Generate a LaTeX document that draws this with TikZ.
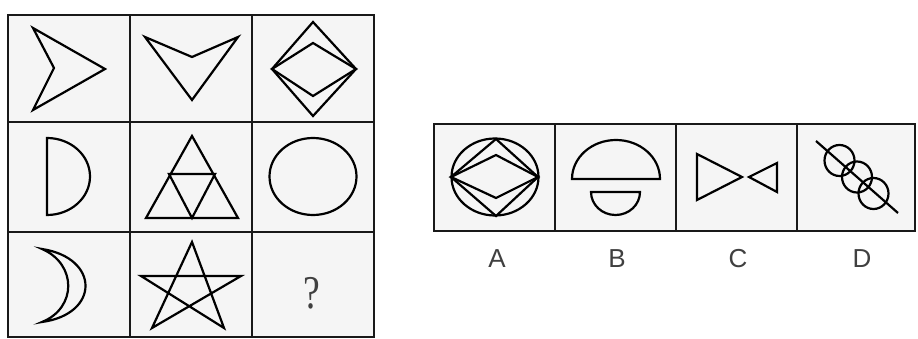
\documentclass[tikz,border=0pt]{standalone}
\usepackage{fontspec}
\setmainfont{Liberation Serif}
\newfontfamily\labelfont{Liberation Sans}
\begin{document}
\begin{tikzpicture}[x=1pt,y=-1pt,
  gridline/.style={line width=2.6pt,draw=black!90},
  shp/.style={line width=2.2pt,draw=black,line join=miter},
  optlabel/.style={anchor=base,text=black!75,font=\labelfont\fontsize{26}{26}\selectfont,inner sep=0pt}]
\path[use as bounding box,fill=white] (0,0) rectangle (918,339);
% matrix grid
\fill[black!4] (8,15) rectangle (374,337);
\draw[gridline] (8,15) rectangle (374,337);
\draw[gridline] (130,15) -- (130,337) (252,15) -- (252,337);
\draw[gridline] (8,122) -- (374,122) (8,232) -- (374,232);
% row 1
\draw[shp] (33,28) -- (105,69) -- (33,110) -- (54,68) -- cycle;
\draw[shp] (145,37) -- (192,57) -- (238,37) -- (192,100) -- cycle;
\draw[shp] (313,22) -- (356,69) -- (313,116) -- (272,69) -- cycle;
\draw[shp] (313,43) -- (356,69) -- (313,96) -- (272,69) -- cycle;
% row 2
\draw[shp] (47,138) arc[start angle=-90,end angle=90,x radius=43,y radius=38.5] -- cycle;
\draw[shp] (192,136) -- (238,218) -- (146,218) -- cycle;
\draw[shp] (169,174) -- (215,174) -- (192,218) -- cycle;
\draw[shp] (313,176.5) ellipse[x radius=43.5,y radius=38.5];
% row 3
\draw[shp] (42,249) .. controls (100,258) and (100,314) .. (42,322)
  .. controls (77,308) and (77,264) .. (42,249) -- cycle;
\draw[shp] (192,242) -- (152,328) -- (241,276) -- (141,276) -- (224,328) -- cycle;
\node[anchor=base,inner sep=0pt,text=black!75,font=\fontsize{47}{47}\selectfont,xscale=0.8] (q) at (312,308) {?};
% options
\fill[black!4] (434,124) rectangle (915,231);
\draw[gridline] (434,124) rectangle (915,231);
\draw[gridline] (555,124) -- (555,231) (676,124) -- (676,231) (797,124) -- (797,231);
% A
\draw[shp] (495,177) ellipse[x radius=43.5,y radius=38.5];
\draw[shp] (496,139) -- (538,177) -- (496,216) -- (451,177) -- cycle;
\draw[shp] (496,155) -- (538,177) -- (496,198) -- (451,177) -- cycle;
% B
\draw[shp] (572,179) arc[start angle=180,end angle=360,x radius=44,y radius=39] -- cycle;
\draw[shp] (591,192) arc[start angle=180,end angle=0,x radius=24.5,y radius=23] -- cycle;
% C
\draw[shp] (697,154) -- (742,177) -- (697,200) -- cycle;
\draw[shp] (749,177) -- (777,163) -- (777,192) -- cycle;
% D
\draw[shp] (816,141) -- (898,213);
\draw[shp] (839.5,160.5) ellipse[x radius=15,y radius=15.5];
\draw[shp] (857,177) ellipse[x radius=15,y radius=15.5];
\draw[shp] (873.5,193.5) ellipse[x radius=15,y radius=15.5];
% labels
\node[optlabel] (la) at (497,267) {A};
\node[optlabel] (lb) at (617,267) {B};
\node[optlabel] (lc) at (738,267) {C};
\node[optlabel] (ld) at (862,267) {D};
\end{tikzpicture}
\end{document}
